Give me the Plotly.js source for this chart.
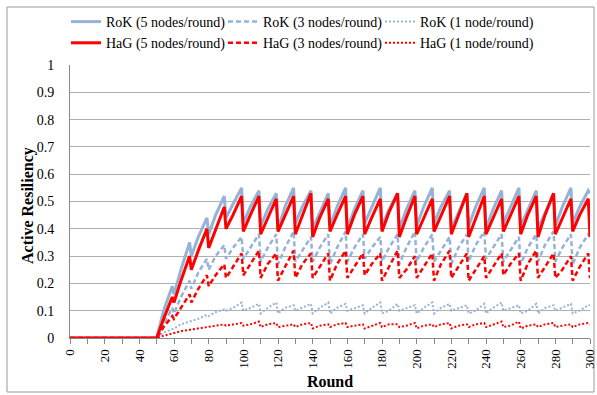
<!DOCTYPE html>
<html>
<head>
<meta charset="utf-8">
<script src="https://cdn.plot.ly/plotly-3.0.1.min.js"></script>
<style>html,body{margin:0;padding:0;background:#fff;}#chart{width:597px;height:395px;}</style>
</head>
<body>
<div id="chart"></div>
<script>
const rounds = [0,50,54,59,60,64,69,70,74,79,80,84,89,90,94,99,100,104,109,110,114,119,120,124,129,130,134,139,140,144,149,150,154,159,160,164,169,170,174,179,180,184,189,190,194,199,200,204,209,210,214,219,220,224,229,230,234,239,240,244,249,250,254,259,260,264,269,270,274,279,280,284,289,290,294,299,300];

const rok5 = [0, 0,0.10,0.19, 0.16,0.25,0.35, 0.30,0.37,0.44, 0.38,0.45,0.52, 0.44,0.49,0.55,
  0.42,0.48,0.54, 0.41,0.47,0.53, 0.40,0.48,0.55, 0.42,0.48,0.54, 0.40,0.46,0.53,
  0.41,0.48,0.55, 0.40,0.47,0.54, 0.42,0.48,0.55, 0.41,0.47,0.53, 0.40,0.47,0.54,
  0.41,0.48,0.55, 0.42,0.48,0.54, 0.40,0.46,0.53, 0.41,0.48,0.55, 0.40,0.47,0.54,
  0.42,0.48,0.55, 0.41,0.47,0.54, 0.40,0.46,0.53, 0.41,0.48,0.55, 0.42,0.48,0.54, 0.53];

const rok3 = [0, 0,0.05,0.11, 0.09,0.15,0.21, 0.18,0.24,0.29, 0.25,0.30,0.34, 0.29,0.33,0.37,
  0.29,0.33,0.38, 0.28,0.33,0.38, 0.27,0.33,0.39, 0.28,0.32,0.37, 0.28,0.33,0.38,
  0.27,0.33,0.39, 0.28,0.33,0.38, 0.29,0.33,0.37, 0.28,0.33,0.38, 0.27,0.33,0.39,
  0.28,0.33,0.38, 0.28,0.32,0.37, 0.27,0.33,0.38, 0.28,0.34,0.39, 0.29,0.33,0.38,
  0.28,0.32,0.37, 0.27,0.33,0.38, 0.28,0.34,0.39, 0.28,0.33,0.38, 0.27,0.33,0.38, 0.37];

const rok1 = [0, 0,0.02,0.035, 0.035,0.05,0.06, 0.06,0.07,0.085, 0.08,0.095,0.105, 0.10,0.11,0.13,
  0.10,0.11,0.125, 0.09,0.11,0.13, 0.09,0.11,0.12, 0.10,0.11,0.125, 0.09,0.11,0.13,
  0.09,0.11,0.125, 0.10,0.11,0.12, 0.09,0.11,0.13, 0.09,0.10,0.125, 0.10,0.11,0.12,
  0.09,0.11,0.13, 0.09,0.11,0.125, 0.10,0.11,0.12, 0.09,0.10,0.125, 0.09,0.11,0.13,
  0.10,0.11,0.12, 0.09,0.10,0.125, 0.09,0.11,0.12, 0.10,0.11,0.125, 0.09,0.10,0.12, 0.12];

const hag5 = [0, 0,0.07,0.15, 0.13,0.21,0.30, 0.25,0.32,0.40, 0.33,0.40,0.48, 0.40,0.45,0.52,
  0.39,0.45,0.52, 0.38,0.44,0.51, 0.39,0.45,0.52, 0.38,0.45,0.53, 0.37,0.44,0.51,
  0.39,0.45,0.52, 0.38,0.45,0.52, 0.38,0.44,0.51, 0.39,0.46,0.53, 0.37,0.44,0.52,
  0.38,0.44,0.51, 0.39,0.45,0.52, 0.38,0.45,0.53, 0.37,0.44,0.52, 0.38,0.44,0.51,
  0.39,0.45,0.52, 0.38,0.45,0.52, 0.37,0.45,0.53, 0.38,0.44,0.51, 0.39,0.45,0.51, 0.37];

const hag3 = [0, 0,0.04,0.08, 0.07,0.11,0.16, 0.13,0.18,0.23, 0.19,0.23,0.27, 0.22,0.26,0.31,
  0.23,0.27,0.32, 0.22,0.27,0.31, 0.21,0.26,0.32, 0.22,0.27,0.31, 0.22,0.26,0.31,
  0.21,0.27,0.32, 0.22,0.26,0.31, 0.23,0.27,0.31, 0.21,0.26,0.32, 0.22,0.25,0.30,
  0.22,0.26,0.31, 0.21,0.27,0.32, 0.22,0.26,0.31, 0.21,0.25,0.30, 0.22,0.26,0.31,
  0.23,0.27,0.31, 0.21,0.27,0.32, 0.22,0.26,0.31, 0.22,0.25,0.30, 0.21,0.26,0.31, 0.22];

const hag1 = [0, 0,0.008,0.018, 0.018,0.025,0.03, 0.03,0.035,0.04, 0.04,0.045,0.05, 0.045,0.05,0.055,
  0.045,0.05,0.06, 0.04,0.05,0.055, 0.04,0.045,0.05, 0.04,0.05,0.055, 0.035,0.045,0.05,
  0.04,0.05,0.055, 0.04,0.045,0.05, 0.035,0.045,0.055, 0.04,0.05,0.05, 0.04,0.045,0.055,
  0.035,0.045,0.05, 0.04,0.05,0.055, 0.035,0.045,0.05, 0.04,0.05,0.055, 0.04,0.05,0.06,
  0.04,0.045,0.06, 0.035,0.045,0.05, 0.04,0.05,0.055, 0.04,0.045,0.05, 0.04,0.05,0.055, 0.05];

const seriesNames = ["RoK (5 nodes/round)","RoK (3 nodes/round)","RoK (1 node/round)",
                     "HaG (5 nodes/round)","HaG (3 nodes/round)","HaG (1 node/round)"];

const BLUE = "#95b3d7", RED = "#ff0000";
const SERIF = "'Liberation Serif', 'Times New Roman', serif";
function tr(y, name, color, dash, width){
  return {x: rounds, y: y, name: name, type: "scatter", mode: "lines",
          line: {color: color, dash: dash, width: width}};
}
const data = [
  tr(rok5, seriesNames[0], BLUE, "solid", 3),
  tr(rok3, seriesNames[1], BLUE, "5px,3px", 2.5),
  tr(rok1, seriesNames[2], BLUE, "2px,2px", 2),
  tr(hag5, seriesNames[3], RED, "solid", 3),
  tr(hag3, seriesNames[4], RED, "5px,3px", 2.5),
  tr(hag1, seriesNames[5], RED, "2px,2px", 2)
];

const L = 70, R = 7, T = 65, B = 57, W = 597, H = 395;
const pw = W - L - R, ph = H - T - B;
const px = v => (v - L) / pw, py = v => (H - B - v) / ph;

const layout = {
  width: W, height: H,
  margin: {l: L, r: R, t: T, b: B, pad: 0, autoexpand: false},
  paper_bgcolor: "#fff", plot_bgcolor: "#fff",
  font: {family: SERIF, color: "#000", size: 13},
  showlegend: true,
  legend: {orientation: "h", xref: "container", yref: "container", x: 0.505, xanchor: "center",
           y: 1 - 6/395, yanchor: "top", font: {size: 14, family: SERIF},
           entrywidth: 112, entrywidthmode: "pixels", tracegroupgap: 0, bgcolor: "rgba(0,0,0,0)"},
  xaxis: {range: [0, 300], dtick: 20, tick0: 0, tickangle: -90, ticks: "outside", ticklen: 5,
          tickcolor: "#888", showline: true, linecolor: "#888", linewidth: 1, showgrid: false,
          zeroline: false, tickfont: {size: 13, family: SERIF}, ticklabeloverflow: "allow",
          minor: {dtick: 10, ticks: "outside", ticklen: 5, tickcolor: "#888", showgrid: false},
          title: {text: "<b>Round</b>", font: {size: 16, family: SERIF}, standoff: 8}},
  yaxis: {range: [0, 1], dtick: 0.1, tick0: 0, ticks: "", showline: true, linecolor: "#888",
          linewidth: 1, showgrid: true, gridcolor: "#b0b0b0", gridwidth: 1, zeroline: false,
          tickfont: {size: 14, family: SERIF}, ticklabelstandoff: 12},
  annotations: [{text: "<b>Active Resiliency</b>", textangle: -90, showarrow: false,
                 xref: "paper", yref: "paper", x: px(28), y: py(206),
                 xanchor: "center", yanchor: "middle", font: {size: 16, family: SERIF}}],
  shapes: [{type: "rect", xref: "paper", yref: "paper",
            x0: px(7), x1: px(594), y0: py(392), y1: py(7),
            line: {color: "#999", width: 1}, layer: "below"}]
};

Plotly.newPlot("chart", data, layout, {staticPlot: true, displayModeBar: false});
</script>
</body>
</html>
